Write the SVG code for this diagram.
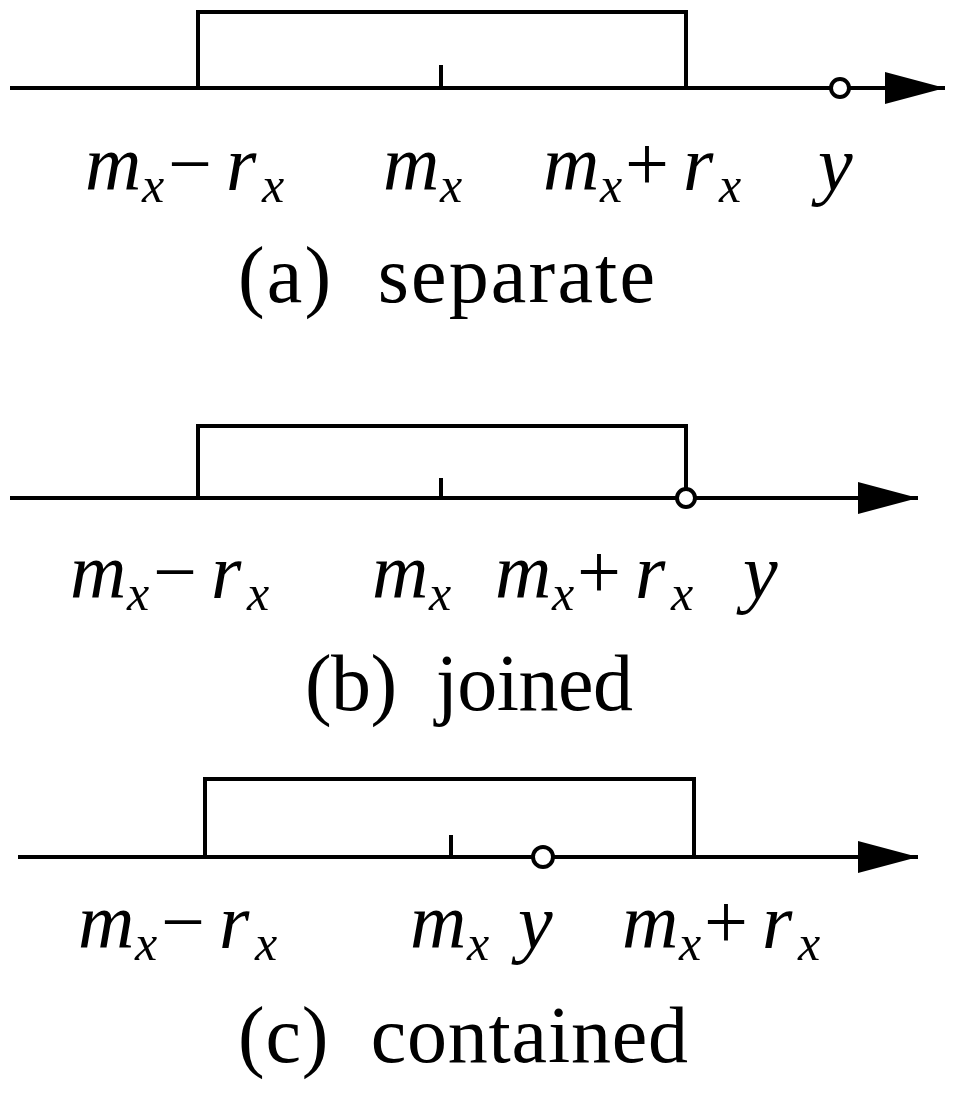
<svg xmlns="http://www.w3.org/2000/svg" width="957" height="1094" viewBox="0 0 957 1094">
<style>
.l{stroke:#000;stroke-width:4;fill:none}
.c{stroke:#000;stroke-width:4;fill:#fff}
.t{font-family:"Liberation Serif",serif;font-size:78px;fill:#000}
.i{font-style:italic}
.s{font-size:50px;font-style:italic}
.cap{font-family:"Liberation Serif",serif;font-size:80px;fill:#000}
</style>
<defs>
<marker id="a" markerUnits="userSpaceOnUse" markerWidth="60" markerHeight="32" refX="60" refY="16" orient="auto"><path d="M0,0L60,16L0,32Z" fill="#000"/></marker>
</defs>
<g id="connectors">
<line class="l" x1="10" y1="88" x2="945" y2="88" marker-end="url(#a)"/>
<line class="l" x1="10" y1="498" x2="918" y2="498" marker-end="url(#a)"/>
<line class="l" x1="18" y1="857" x2="918" y2="857" marker-end="url(#a)"/>
</g>
<g id="panel-a">
<path class="l" d="M198,88V12H686V88M441,65V88"/>
<circle class="c" cx="840" cy="88" r="9"/>
<text class="t" y="190"><tspan class="i" x="85">m</tspan><tspan class="s" x="142" dy="12">x</tspan><tspan x="168" dy="-12">−</tspan><tspan class="i" x="226">r</tspan><tspan class="s" x="262" dy="12">x</tspan></text>
<text class="t" y="190"><tspan class="i" x="383">m</tspan><tspan class="s" x="440" dy="12">x</tspan></text>
<text class="t" y="190"><tspan class="i" x="543">m</tspan><tspan class="s" x="600" dy="12">x</tspan><tspan x="625" dy="-12">+</tspan><tspan class="i" x="683">r</tspan><tspan class="s" x="719" dy="12">x</tspan></text>
<text class="t i" x="818" y="190">y</text>
<text class="cap" x="238" y="302" textLength="417" xml:space="preserve">(a)  separate</text>
</g>
<g id="panel-b">
<path class="l" d="M198,498V426H686V498M441,478V498"/>
<circle class="c" cx="686" cy="498" r="9"/>
<text class="t" y="598"><tspan class="i" x="70">m</tspan><tspan class="s" x="127" dy="12">x</tspan><tspan x="153" dy="-12">−</tspan><tspan class="i" x="211">r</tspan><tspan class="s" x="247" dy="12">x</tspan></text>
<text class="t" y="598"><tspan class="i" x="372">m</tspan><tspan class="s" x="429" dy="12">x</tspan></text>
<text class="t" y="598"><tspan class="i" x="495">m</tspan><tspan class="s" x="552" dy="12">x</tspan><tspan x="577" dy="-12">+</tspan><tspan class="i" x="635">r</tspan><tspan class="s" x="671" dy="12">x</tspan></text>
<text class="t i" x="743" y="598">y</text>
<text class="cap" x="305" y="710" textLength="328" xml:space="preserve">(b)  joined</text>
</g>
<g id="panel-c">
<path class="l" d="M205,857V779H694V857M451,835V857"/>
<circle class="c" cx="543" cy="857" r="10"/>
<text class="t" y="948"><tspan class="i" x="78">m</tspan><tspan class="s" x="135" dy="12">x</tspan><tspan x="161" dy="-12">−</tspan><tspan class="i" x="219">r</tspan><tspan class="s" x="255" dy="12">x</tspan></text>
<text class="t" y="948"><tspan class="i" x="410">m</tspan><tspan class="s" x="467" dy="12">x</tspan></text>
<text class="t i" x="518" y="948">y</text>
<text class="t" y="948"><tspan class="i" x="622">m</tspan><tspan class="s" x="679" dy="12">x</tspan><tspan x="704" dy="-12">+</tspan><tspan class="i" x="762">r</tspan><tspan class="s" x="798" dy="12">x</tspan></text>
<text class="cap" x="238" y="1062" textLength="450" xml:space="preserve">(c)  contained</text>
</g>
</svg>
